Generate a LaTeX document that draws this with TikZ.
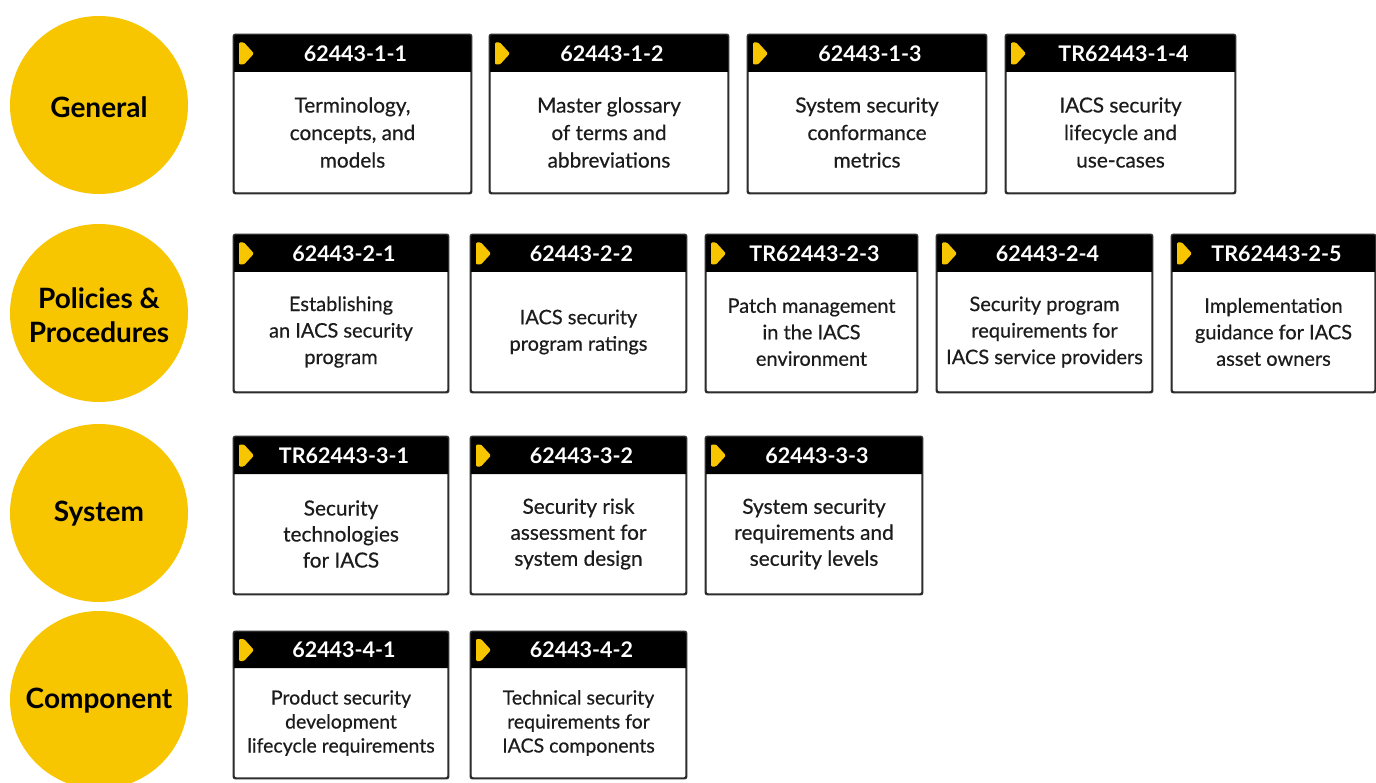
\documentclass[tikz,border=0pt]{standalone}
\usepackage{fontspec}
\setmainfont{Lato}
\newfontfamily\bodyfont{Lato}[FakeBold=0.5]
\definecolor{iecyellow}{RGB}{247,198,0}
\definecolor{boxline}{RGB}{45,45,45}
\definecolor{bodyink}{RGB}{28,28,28}
\tikzset{
  cat/.style={circle, fill=iecyellow, minimum size=178pt, inner sep=0pt, align=center,
    font=\fontsize{28}{34}\selectfont\bfseries, text=black},
  catlabel/.style={align=center, inner sep=0pt, font=\fontsize{28}{34}\selectfont\bfseries, text=black},
  boxbody/.style={draw=boxline, line width=1.4pt, rounded corners=2pt, fill=white, inner sep=0pt},
  headtxt/.style={text=white, font=\fontsize{21.5}{24}\selectfont\bfseries, inner sep=0pt},
  bodytxt/.style={text=bodyink, align=center, inner sep=0pt},
  chev/.style={fill=iecyellow, rounded corners=1.2pt},
}
% #1 name, #2 x1, #3 x2, #4 top, #5 header bottom, #6 bottom, #7 code, #8 text, #9 font
\newcommand\stdbox[9]{%
  \node[boxbody, minimum width={#3-#2}, minimum height={#6-#4}] (#1) at ({(#2+#3)/2},{(#4+#6)/2}) {};
  \fill[black] (#2,#5) [rounded corners=2pt] -- (#2,#4) -- (#3,#4) [sharp corners] -- (#3,#5) -- cycle;
  \draw[boxline, line width=1.4pt, rounded corners=2pt] (#1.south west) rectangle (#1.north east);
  \fill[chev] ({#2+5},{(#4+#5)/2-11}) -- ({#2+10},{(#4+#5)/2-11}) -- ({#2+20},{(#4+#5)/2}) -- ({#2+10},{(#4+#5)/2+11}) -- ({#2+5},{(#4+#5)/2+11}) -- cycle;
  \node[headtxt] (#1-h) at ({(#2+#3)/2+3},{(#4+#5)/2}) {#7};
  \node[bodytxt, font=\bodyfont#9] (#1-t) at ({(#2+#3)/2},{(#5+#6)/2}) {#8};
}
\begin{document}
\begin{tikzpicture}[x=1pt,y=-1pt]
\useasboundingbox (0,0) rectangle (1376,783);
\fill[white] (0,0) rectangle (1376,783);
\clip (0,0) rectangle (1376,783);

\node[cat] (general) at (99,105) {};
\node[catlabel] (general-t) at (99,107) {General};
\node[cat] (policies) at (99,313) {};
\node[catlabel] (policies-t) at (99,315) {Policies \&\\Procedures};
\node[cat] (system) at (99,513) {};
\node[catlabel] (system-t) at (99,514) {System};
\node[cat] (component) at (99,700) {};
\node[catlabel] (component-t) at (99,701) {Component};

\def\fa{\fontsize{20.8}{27.5}\selectfont}
\def\fb{\fontsize{20}{26.5}\selectfont}
\def\fc{\fontsize{20.8}{26}\selectfont}
\def\fd{\fontsize{19.5}{24}\selectfont}

\stdbox{b11}{234}{471}{35}{72}{193}{62443-1-1}{Terminology,\\concepts, and\\models}{\fa}
\stdbox{b12}{490}{728}{35}{72}{193}{62443-1-2}{Master glossary\\of terms and\\abbreviations}{\fa}
\stdbox{b13}{748}{986}{35}{72}{193}{62443-1-3}{System security\\conformance\\metrics}{\fa}
\stdbox{b14}{1006}{1235}{35}{72}{193}{TR62443-1-4}{IACS security\\lifecycle and\\use-cases}{\fa}

\stdbox{b21}{234}{448}{235}{272}{392}{62443-2-1}{Establishing\\an IACS security\\program}{\fb}
\stdbox{b22}{471}{686}{235}{272}{392}{62443-2-2}{IACS security\\program ratings}{\fb}
\stdbox{b23}{706}{917}{235}{272}{392}{TR62443-2-3}{Patch management\\in the IACS\\environment}{\fb}
\stdbox{b24}{937}{1152}{235}{272}{392}{62443-2-4}{Security program\\requirements for\\IACS service providers}{\fb}
\stdbox{b25}{1172}{1375}{235}{272}{392}{TR62443-2-5}{Implementation\\guidance for IACS\\asset owners}{\fb}

\stdbox{b31}{234}{448}{437}{474}{594}{TR62443-3-1}{Security\\technologies\\for IACS}{\fc}
\stdbox{b32}{471}{686}{437}{474}{594}{62443-3-2}{Security risk\\assessment for\\system design}{\fc}
\stdbox{b33}{706}{922}{437}{474}{594}{62443-3-3}{System security\\requirements and\\security levels}{\fc}

\stdbox{b41}{234}{448}{632}{668}{778}{62443-4-1}{Product security\\development\\lifecycle requirements}{\fd}
\stdbox{b42}{471}{686}{632}{668}{778}{62443-4-2}{Technical security\\requirements for\\IACS components}{\fd}
\end{tikzpicture}
\end{document}
